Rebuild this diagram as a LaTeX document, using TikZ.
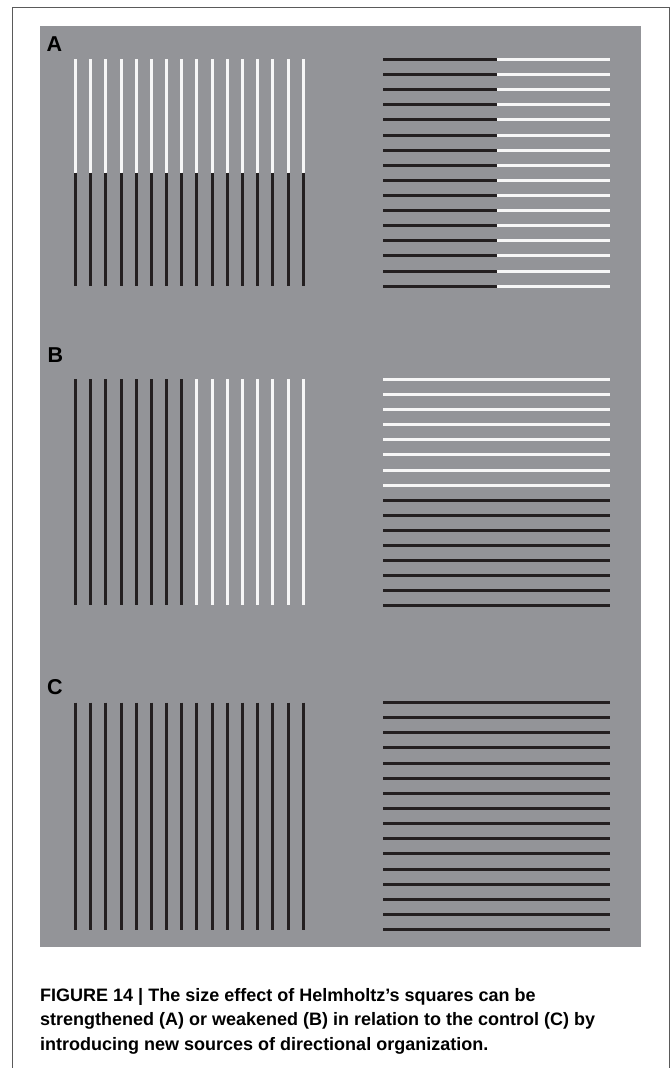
\documentclass[tikz,border=0pt]{standalone}
\usepackage{fontspec}
\setmainfont{Liberation Sans}
\definecolor{panelgray}{RGB}{147,148,152}
\definecolor{barblack}{RGB}{35,31,32}
\definecolor{barwhite}{RGB}{246,246,246}
\definecolor{framegray}{RGB}{90,90,90}
\begin{document}
\begin{tikzpicture}[x=1pt, y=-1pt,
  bar/.style={line width=2.8pt},
  dk/.style={bar, draw=barblack},
  lt/.style={bar, draw=barwhite},
  lab/.style={font=\fontsize{21.5}{24}\selectfont\bfseries, inner sep=0pt, anchor=north west},
  capline/.style={font=\fontsize{18}{22}\selectfont\bfseries, inner sep=0pt, anchor=base west}]
\useasboundingbox (0,0) rectangle (671,1068);
% Frame and panel
\draw[framegray, line width=1pt] (12,1068) -- (12,7.5) -- (669,7.5) -- (669,1068);
\fill[panelgray] (40,26) rectangle (641,947);
% Labels
\node[lab] (labA) at (46.5,37) {A};
\node[lab] (labB) at (47.5,348) {B};
\node[lab] (labC) at (47,679.5) {C};
% Panel A: white over black, black beside white
\foreach \i [evaluate=\i as \x using round(75+15.18*\i)+0.5, evaluate=\i as \y using round(59+15.11*\i)+0.5] in {0,...,15} {
  \draw[lt] (\x,59.3) -- (\x,172.7);
  \draw[dk] (\x,172.7) -- (\x,286);
  \draw[dk] (383,\y) -- (496.5,\y);
  \draw[lt] (496.5,\y) -- (610,\y);
}
% Panel B: black then white
\foreach \i [evaluate=\i as \x using round(75+15.18*\i)+0.5, evaluate=\i as \y using round(379+15.09*\i)+0.5] in {0,...,7} {
  \draw[dk] (\x,379) -- (\x,605.3);
  \draw[lt] (383,\y) -- (610,\y);
}
\foreach \i [evaluate=\i as \x using round(75+15.18*\i)+0.5, evaluate=\i as \y using round(379+15.09*\i)+0.5] in {8,...,15} {
  \draw[lt] (\x,379) -- (\x,605.3);
  \draw[dk] (383,\y) -- (610,\y);
}
% Panel C: control
\foreach \i [evaluate=\i as \x using round(75+15.18*\i)+0.5, evaluate=\i as \y using round(702+15.15*\i)+0.5] in {0,...,15} {
  \draw[dk] (\x,702.7) -- (\x,930);
  \draw[dk] (383,\y) -- (610,\y);
}
% Caption
\node[capline] (cap1) at (40,1001) {FIGURE 14 | The size effect of Helmholtz’s squares can be};
\node[capline] (cap2) at (40,1025.5) {strengthened (A) or weakened (B) in relation to the control (C) by};
\node[capline] (cap3) at (40,1050) {introducing new sources of directional organization.};
\end{tikzpicture}
\end{document}
